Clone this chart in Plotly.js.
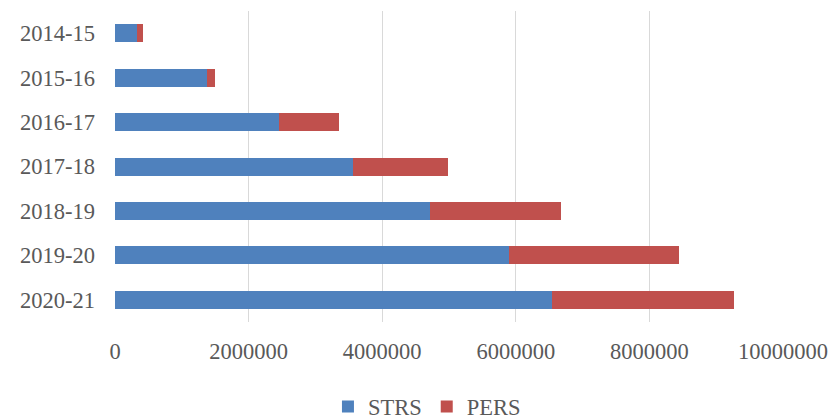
<!DOCTYPE html>
<html>
<head>
<meta charset="utf-8">
<script src="https://cdn.plot.ly/plotly-3.0.1.min.js"></script>
<style>html,body{margin:0;padding:0;background:#fff;}#chart{width:839px;height:420px;}</style>
</head>
<body>
<div id="chart"></div>
<script>
const years = ["2014-15","2015-16","2016-17","2017-18","2018-19","2019-20","2020-21"];
const strs = [327000, 1380000, 2458000, 3567000, 4720000, 5904000, 6539000];
const pers = [94000, 120000, 890000, 1423000, 1959000, 2542000, 2727000];
const xTicks = [0, 2000000, 4000000, 6000000, 8000000, 10000000];

const font = {family: "Liberation Serif", size: 22.5, color: "#595959"};

const data = [
  {type: "bar", orientation: "h", name: "STRS", y: years, x: strs, marker: {color: "#4F81BD"}},
  {type: "bar", orientation: "h", name: "PERS", y: years, x: pers, marker: {color: "#C0504D"}}
];

const layout = {
  width: 839, height: 420,
  margin: {l: 115, r: 56, t: 11, b: 98, autoexpand: false},
  barmode: "stack",
  bargap: 0.595,
  paper_bgcolor: "#fff", plot_bgcolor: "#fff",
  font: font,
  showlegend: true,
  legend: {orientation: "h", x: 0.467, xanchor: "center", yref: "container", y: 0.031, yanchor: "middle", font: font, itemwidth: 30, traceorder: "normal"},
  xaxis: {
    range: [0, 10000000], tickvals: xTicks, ticktext: xTicks.map(String),
    showgrid: true, gridcolor: "#d9d9d9", gridwidth: 1.3, zeroline: false,
    showline: false, ticks: "", ticklabelstandoff: 13, tickfont: font, fixedrange: true
  },
  yaxis: {
    type: "category", categoryorder: "array", categoryarray: years, autorange: "reversed",
    showgrid: false, zeroline: false, showline: false, ticks: "", ticklabelstandoff: 19, tickfont: font
  }
};

Plotly.newPlot("chart", data, layout, {displayModeBar: false, staticPlot: true});
</script>
</body>
</html>
